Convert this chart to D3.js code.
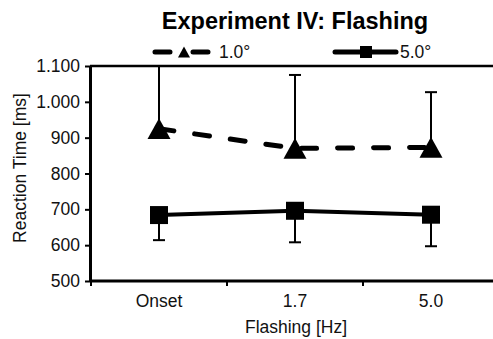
<!DOCTYPE html>
<html>
<head>
<meta charset="utf-8">
<script src="https://cdn.jsdelivr.net/npm/d3@7"></script>
<style>
  body { margin: 0; background: #fff; }
  text { font-family: "Liberation Sans", Arial, sans-serif; }
</style>
</head>
<body>
<div id="chart"></div>
<script>
// Data
const categories = ['Onset', '1.7', '5.0'];
const seriesNames = ['1.0°', '5.0°'];
const small = [925, 870, 873];       // 1.0° mean RT
const smallErrUp = [175, 205, 154];  // upper error
const large = [684, 696, 685];       // 5.0° mean RT
const largeErrDown = [70, 88, 88];   // lower error
const yTicks = [500, 600, 700, 800, 900, 1000, 1100];

const width = 493;
const height = 339;

const svg = d3.select('#chart')
  .append('svg')
  .attr('width', width)
  .attr('height', height);

// Scales
const x = d3.scaleBand()
  .domain(categories)
  .range([91, 499]);

const y = d3.scaleLinear()
  .domain([500, 1100])
  .range([281, 66]);

const de = d3.formatLocale({ decimal: ',', thousands: '.', grouping: [3], currency: ['', ''] });
const fmt = de.format(',');

// Triangle centered on its bounding box (Excel-like marker)
const triangle = {
  draw(ctx, size) {
    const w = Math.sqrt(size);
    const h = w * 0.9;
    ctx.moveTo(0, -h / 2);
    ctx.lineTo(w / 2, h / 2);
    ctx.lineTo(-w / 2, h / 2);
    ctx.closePath();
  }
};

// Title
svg.append('text')
  .attr('x', 295)
  .attr('y', 29)
  .attr('text-anchor', 'middle')
  .attr('font-size', '23.5px')
  .attr('font-weight', 'bold')
  .text('Experiment IV: Flashing');

// Top border line
svg.append('line')
  .attr('x1', 90).attr('x2', width)
  .attr('y1', y(1100)).attr('y2', y(1100))
  .attr('stroke', '#000')
  .attr('stroke-width', 2.5);

// Y axis
const yAxis = svg.append('g')
  .attr('transform', 'translate(90,0)')
  .call(d3.axisLeft(y).tickValues(yTicks).tickFormat(fmt).tickSize(5).tickSizeOuter(0).tickPadding(5));
yAxis.select('.domain').attr('stroke-width', 3);
yAxis.selectAll('.tick line').attr('stroke-width', 2);
yAxis.selectAll('text').attr('font-size', '17.5px').attr('fill', '#111');

// X axis: labels at band centres, ticks at band boundaries
const xAxis = svg.append('g')
  .attr('transform', `translate(0,${y(500)})`)
  .call(d3.axisBottom(x).tickSize(0).tickSizeOuter(0).tickPadding(14));
xAxis.select('.domain').attr('stroke-width', 3).attr('d', `M90,0H${width}`);
xAxis.selectAll('text').attr('font-size', '17.5px').attr('fill', '#111');

xAxis.selectAll('.bound')
  .data(categories)
  .enter()
  .append('line')
  .attr('class', 'bound')
  .attr('x1', (d) => x(d))
  .attr('x2', (d) => x(d))
  .attr('y1', 0)
  .attr('y2', 5)
  .attr('stroke', '#000')
  .attr('stroke-width', 2);

// Axis titles
svg.append('text')
  .attr('transform', 'rotate(-90)')
  .attr('x', -168)
  .attr('y', 26)
  .attr('text-anchor', 'middle')
  .attr('font-size', '17.5px')
  .attr('fill', '#111')
  .text('Reaction Time [ms]');

svg.append('text')
  .attr('x', 296)
  .attr('y', 333)
  .attr('text-anchor', 'middle')
  .attr('font-size', '17.5px')
  .attr('fill', '#111')
  .text('Flashing [Hz]');

const cx = (d) => x(d) + x.bandwidth() / 2;

// Error bars
const errG = svg.append('g').attr('stroke', '#000').attr('stroke-width', 2);
categories.forEach((c, i) => {
  const top = small[i] + smallErrUp[i];
  errG.append('line').attr('x1', cx(c)).attr('x2', cx(c)).attr('y1', y(small[i])).attr('y2', y(top));
  errG.append('line').attr('x1', cx(c) - 6).attr('x2', cx(c) + 6).attr('y1', y(top)).attr('y2', y(top));
  const bot = large[i] - largeErrDown[i];
  errG.append('line').attr('x1', cx(c)).attr('x2', cx(c)).attr('y1', y(large[i])).attr('y2', y(bot));
  errG.append('line').attr('x1', cx(c) - 6).attr('x2', cx(c) + 6).attr('y1', y(bot)).attr('y2', y(bot));
});

// Lines
const line = d3.line()
  .x((d, i) => cx(categories[i]))
  .y((d) => y(d));

svg.append('path')
  .datum(small)
  .attr('d', line)
  .attr('fill', 'none')
  .attr('stroke', '#000')
  .attr('stroke-width', 5)
  .attr('stroke-linecap', 'round')
  .attr('stroke-dasharray', '15,21');

svg.append('path')
  .datum(large)
  .attr('d', line)
  .attr('fill', 'none')
  .attr('stroke', '#000')
  .attr('stroke-width', 4);

// Markers
svg.selectAll('.tri')
  .data(small)
  .enter()
  .append('path')
  .attr('class', 'tri')
  .attr('transform', (d, i) => `translate(${cx(categories[i])},${y(d)})`)
  .attr('d', d3.symbol().type(triangle).size(23 * 23))
  .attr('fill', '#000');

svg.selectAll('.sq')
  .data(large)
  .enter()
  .append('path')
  .attr('class', 'sq')
  .attr('transform', (d, i) => `translate(${cx(categories[i])},${y(d)})`)
  .attr('d', d3.symbol().type(d3.symbolSquare).size(18 * 18))
  .attr('fill', '#000');

// Legend
const leg = svg.append('g');
leg.append('line')
  .attr('x1', 155).attr('x2', 208).attr('y1', 52).attr('y2', 52)
  .attr('stroke', '#000').attr('stroke-width', 5)
  .attr('stroke-linecap', 'round')
  .attr('stroke-dasharray', '15,23');
leg.append('path')
  .attr('transform', 'translate(184,52)')
  .attr('d', d3.symbol().type(triangle).size(12 * 12))
  .attr('fill', '#000');
leg.append('text')
  .attr('x', 219).attr('y', 58)
  .attr('font-size', '17.5px').attr('fill', '#111')
  .text(seriesNames[0]);

leg.append('line')
  .attr('x1', 335).attr('x2', 396).attr('y1', 52).attr('y2', 52)
  .attr('stroke', '#000').attr('stroke-width', 5)
  .attr('stroke-linecap', 'round');
leg.append('path')
  .attr('transform', 'translate(366,52)')
  .attr('d', d3.symbol().type(d3.symbolSquare).size(12 * 12))
  .attr('fill', '#000');
leg.append('text')
  .attr('x', 400).attr('y', 58)
  .attr('font-size', '17.5px').attr('fill', '#111')
  .text(seriesNames[1]);
</script>
</body>
</html>
